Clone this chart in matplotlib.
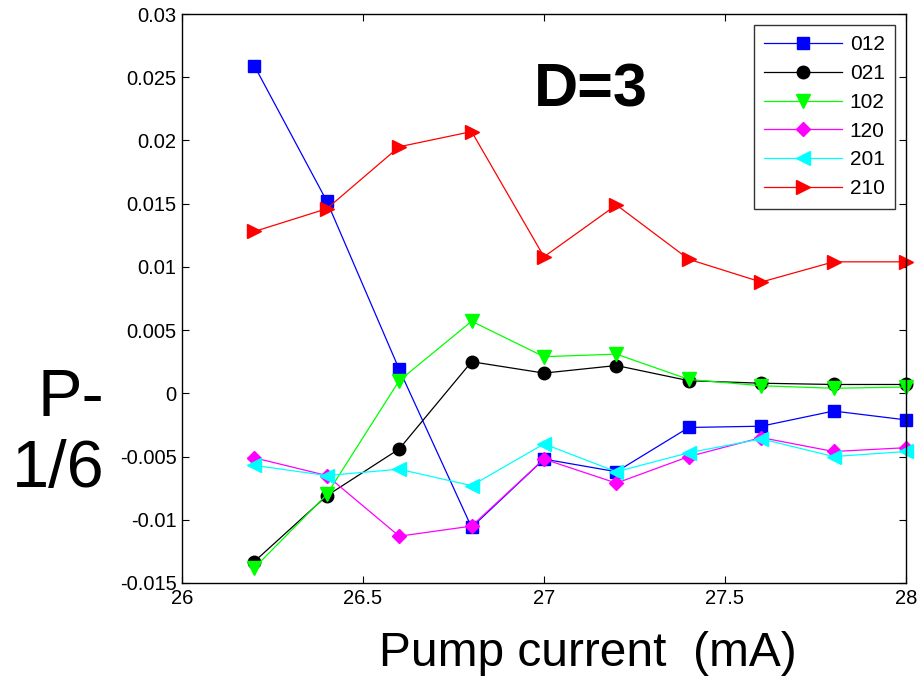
import matplotlib
matplotlib.use("Agg")
import matplotlib.pyplot as plt

plt.rcParams['font.family'] = ['Liberation Sans', 'DejaVu Sans']

x = [26.2, 26.4, 26.6, 26.8, 27.0, 27.2, 27.4, 27.6, 27.8, 28.0]
s012 = [0.0259, 0.0152, 0.0019, -0.0106, -0.0052, -0.0062, -0.0027, -0.0026, -0.0014, -0.0021]
s021 = [-0.0133, -0.0081, -0.0044, 0.0025, 0.0016, 0.0022, 0.0010, 0.0008, 0.0007, 0.0007]
s102 = [-0.0138, -0.0080, 0.0010, 0.0057, 0.0029, 0.0031, 0.0011, 0.0006, 0.0004, 0.0005]
s120 = [-0.0051, -0.0065, -0.0113, -0.0105, -0.0052, -0.0071, -0.0050, -0.0035, -0.0046, -0.0043]
s201 = [-0.0057, -0.0065, -0.0060, -0.0073, -0.0040, -0.0062, -0.0047, -0.0036, -0.0050, -0.0046]
s210 = [0.0128, 0.0146, 0.0195, 0.0207, 0.0108, 0.0149, 0.0106, 0.0088, 0.0104, 0.0104]
labels = ['012', '021', '102', '120', '201', '210']
xticks = [26, 26.5, 27, 27.5, 28]
xticklabels = ['26', '26.5', '27', '27.5', '28']
yticks = [-0.015, -0.01, -0.005, 0, 0.005, 0.01, 0.015, 0.02, 0.025, 0.03]
yticklabels = ['-0.015', '-0.01', '-0.005', '0', '0.005', '0.01', '0.015', '0.02', '0.025', '0.03']

fig = plt.figure(figsize=(9.21, 6.79), dpi=100)
ax = fig.add_axes([182/921, 1-583/679, (906-182)/921, (583-14)/679])

series = [s012, s021, s102, s120, s201, s210]
styles = [('#0000ff', 's', 8.5), ('#000000', 'o', 9), ('#00ff00', 'v', 10),
          ('#ff00ff', 'D', 7), ('#00ffff', '<', 10), ('#ff0000', '>', 10)]
for ys, lab, (c, m, ms) in zip(series, labels, styles):
    ax.plot(x, ys, color=c, marker=m, markersize=ms, markerfacecolor=c,
            markeredgecolor=c, linewidth=0.9, label=lab, clip_on=False)

ax.set_xlim(26, 28)
ax.set_ylim(-0.015, 0.03)
ax.set_xticks(xticks)
ax.set_xticklabels(xticklabels)
ax.set_yticks(yticks)
ax.set_yticklabels(yticklabels)
ax.tick_params(direction='in', length=5, width=0.8, labelsize=14.5, top=True, right=True, pad=4)
for sp in ax.spines.values():
    sp.set_linewidth(1.0)
    sp.set_color('black')

fig.text(588/921, 1-666/679, 'Pump current  (mA)', fontsize=34.5, ha='center', va='baseline')
fig.text(104/921, 1-487/679, 'P-\n1/6', fontsize=48, ha='right', va='baseline',
         multialignment='right', linespacing=1.18)

ax.text(0.486, 0.8366, 'D=3', transform=ax.transAxes, fontsize=44, fontweight='bold',
        ha='left', va='baseline')

leg = ax.legend(loc='upper right', bbox_to_anchor=(0.985, 0.981), borderaxespad=0,
                fontsize=15, handlelength=3.7, handletextpad=0.4, labelspacing=0.47,
                fancybox=False, frameon=True, borderpad=0.5)
leg.get_frame().set_edgecolor('black')
leg.get_frame().set_linewidth(1.0)

fig.savefig('out.png', dpi=100)
